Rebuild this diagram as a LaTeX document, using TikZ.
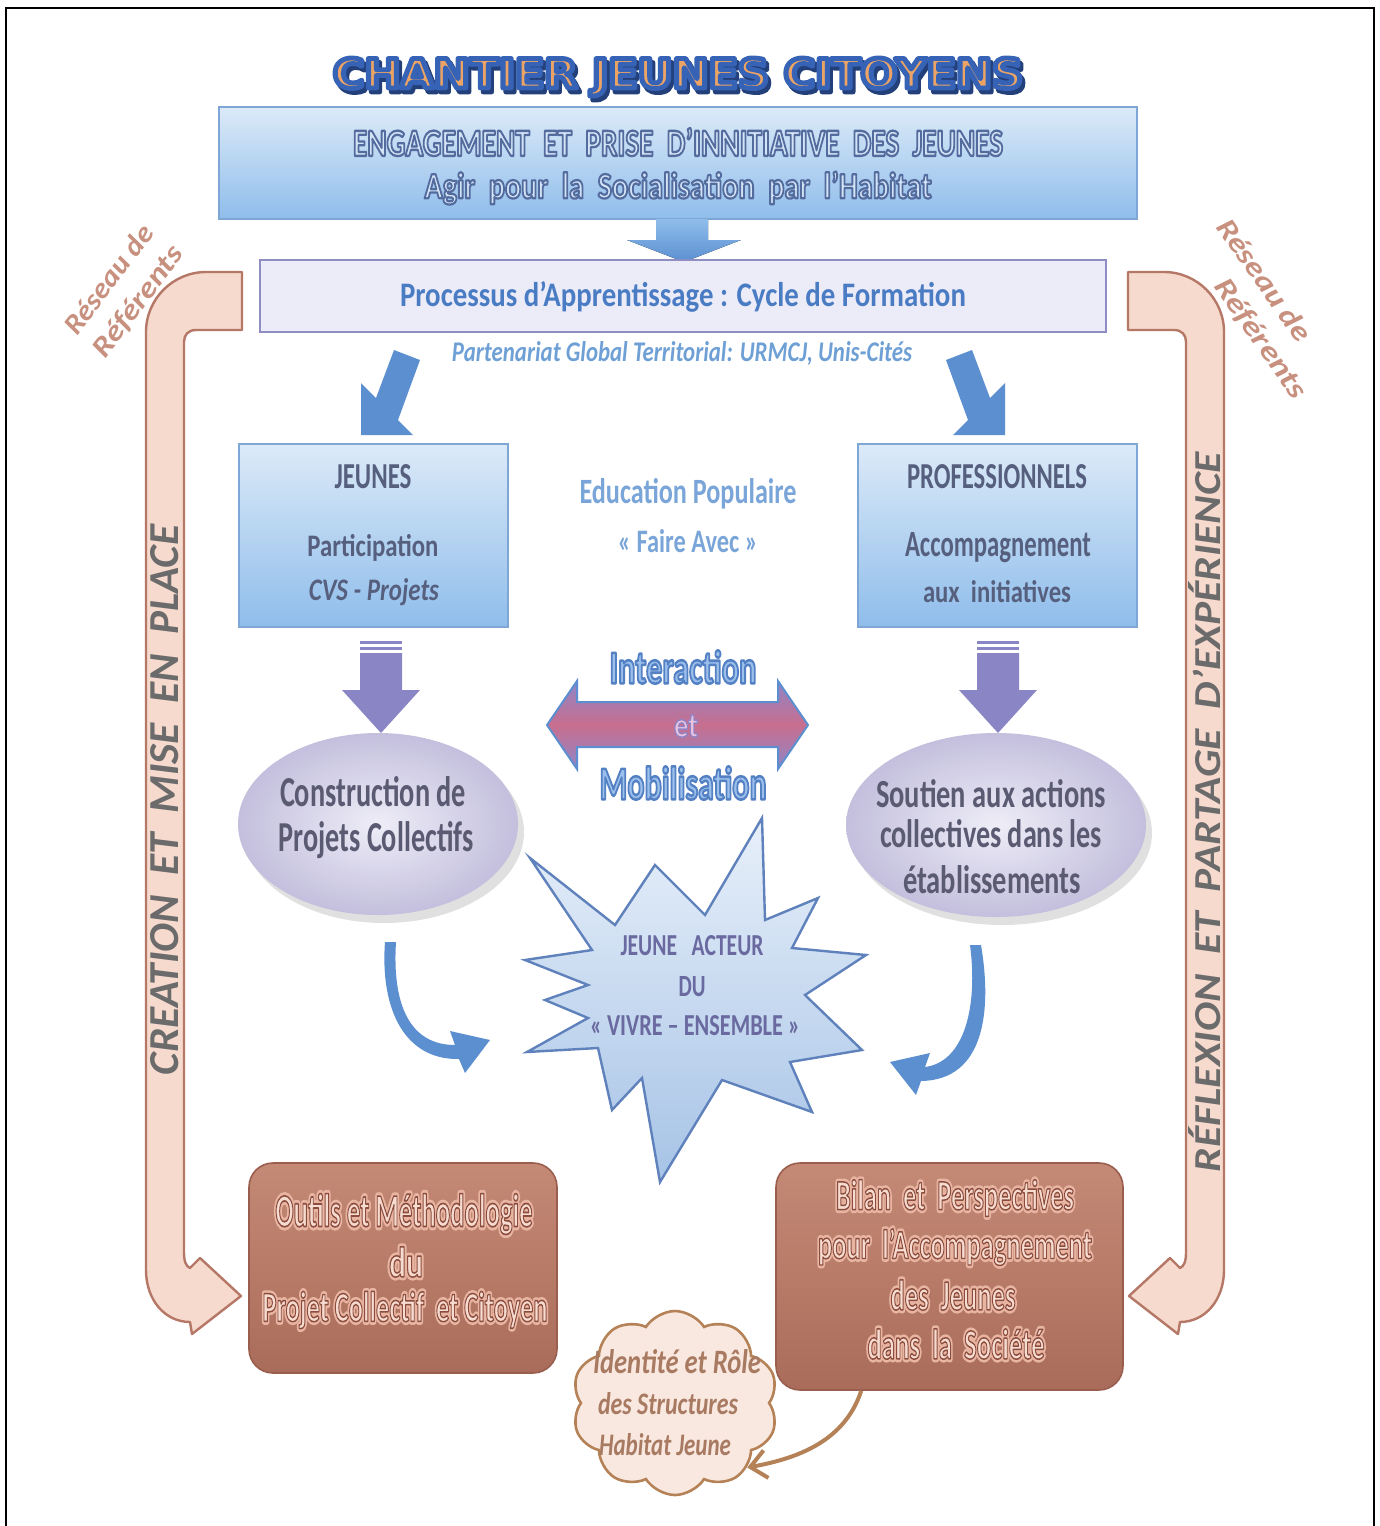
\documentclass[tikz,border=0pt]{standalone}
\usepackage{fontspec}
\usepackage{graphicx}
\setmainfont{Carlito}
\newfontfamily\djv{DejaVu Sans}
\usetikzlibrary{shapes.geometric,shapes.symbols,arrows.meta}

\definecolor{arrblue}{HTML}{5B8FD0}
\definecolor{boxtop}{HTML}{DCEAF8}
\definecolor{boxbot}{HTML}{8FBDEB}
\definecolor{boxline}{HTML}{7FA7D6}
\definecolor{procfill}{HTML}{ECECF8}
\definecolor{procline}{HTML}{8E8EC4}
\definecolor{purparr}{HTML}{8A86C6}
\definecolor{ellin}{HTML}{EEEDF7}
\definecolor{ellout}{HTML}{C3BFDD}
\definecolor{startop}{HTML}{E8F0FA}
\definecolor{starbot}{HTML}{A6C3E6}
\definecolor{starline}{HTML}{5F81BC}
\definecolor{bandfill}{HTML}{F7DACE}
\definecolor{bandline}{HTML}{B57766}
\definecolor{browntop}{HTML}{C48A76}
\definecolor{brownbot}{HTML}{AA6C5A}
\definecolor{brownline}{HTML}{9A5E4E}
\definecolor{boxtext}{HTML}{56607E}
\definecolor{edutext}{HTML}{7AA5D8}
\definecolor{proctext}{HTML}{4A7CC4}
\definecolor{parttext}{HTML}{6EA0D6}
\definecolor{elltext}{HTML}{5A5A72}
\definecolor{startext}{HTML}{6A6AA0}
\definecolor{cloudtext}{HTML}{A87A62}
\definecolor{cloudfill}{HTML}{F9E8E0}
\definecolor{cloudline}{HTML}{B58258}
\definecolor{sidetext}{HTML}{6B6B6B}
\definecolor{restext}{HTML}{C8907E}
\definecolor{titlefill}{HTML}{EBA466}
\definecolor{titleshadow}{HTML}{24407A}
\definecolor{topfill}{HTML}{D3E4F6}
\definecolor{intfill}{HTML}{9CC0EC}
\definecolor{brtext}{HTML}{F6DCD0}
\definecolor{brhalo}{HTML}{E8B5A3}
\definecolor{dbltop}{HTML}{8E86C8}
\definecolor{dblmid}{HTML}{C86E8E}
\definecolor{ettext}{HTML}{E8C4E0}

% width px, height px, text
\newcommand\fitbox[3]{\resizebox{\dimexpr#1pt/2\relax}{\dimexpr#2pt/2\relax}{#3}}
% outlined text: stroke rgb, stroke width, text
\newcommand\olt[3]{\special{pdf:literal direct #1 RG #2 w 1 j 2 Tr}#3\special{pdf:literal direct 0 Tr}}
% name, pos, W, H, style, text
\newcommand\txt[6]{\node[inner sep=0pt,#5] (#1) at (#2) {\fitbox{#3}{#4}{#6}};}
% brown-box text with halo: name, pos, W, H, text
\newcommand\brtxt[5]{%
  \node[inner sep=0pt,text=brhalo,font=\bfseries] at (#2) {\fitbox{#3}{#4}{\olt{0.91 0.71 0.64}{1.6}{#5}}};
  \node[inner sep=0pt,text=brtext,font=\bfseries] (#1) at (#2) {\fitbox{#3}{#4}{\olt{0.55 0.30 0.24}{0.35}{#5}}};}

\tikzset{
  bluebox/.style={draw=boxline,line width=0.8pt,top color=boxtop,bottom color=boxbot},
  band/.style={fill=bandfill,draw=bandline,line width=1.2pt,line join=round},
  blockarrow/.style={fill=arrblue},
  purplearrow/.style={fill=purparr},
  lav/.style={ellipse,inner color=ellin,outer color=ellout,draw=none},
  brownbox/.style={rounded corners=12pt,top color=browntop,bottom color=brownbot,draw=brownline,line width=0.8pt},
}

\begin{document}
\begin{tikzpicture}[x=0.5pt,y=-0.5pt]
\useasboundingbox (0,0) rectangle (1380,1526);
\fill[white] (0,0) rectangle (1380,1526);
% frame
\draw[line width=1pt] (6,1526) -- (6,8) -- (1374,8) -- (1374,1526);

% ---------- side bands ----------
\path[band] (242,272) -- (206,272) .. controls (173,272) and (146,299) .. (146,332)
  -- (146,1270) .. controls (146,1300) and (165,1322) .. (190,1322) -- (192,1334) -- (241,1296)
  -- (200,1258) -- (190,1268) .. controls (186,1266) and (184,1262) .. (184,1252)
  -- (184,342) .. controls (184,335) and (188,330) .. (196,330) -- (242,330) -- cycle;
\begin{scope}[shift={(1370,0)},xscale=-1]
\path[band] (242,272) -- (206,272) .. controls (173,272) and (146,299) .. (146,332)
  -- (146,1270) .. controls (146,1300) and (165,1322) .. (190,1322) -- (192,1334) -- (241,1296)
  -- (200,1258) -- (190,1268) .. controls (186,1266) and (184,1262) .. (184,1252)
  -- (184,342) .. controls (184,335) and (188,330) .. (196,330) -- (242,330) -- cycle;
\end{scope}
\txt{creation}{165,800}{550}{28}{rotate=90,text=sidetext,font=\bfseries\itshape}{CREATION\ \ ET\ \ MISE\ \ EN\ \ PLACE}
\txt{reflexion}{1205,812}{720}{32}{rotate=90,text=sidetext,font=\bfseries\itshape}{RÉFLEXION\ \ ET\ \ PARTAGE\ \ D’EXPÉRIENCE}
\node[inner sep=0pt,rotate=53,align=center,text=restext,font=\itshape\bfseries] (resL) at (124,291)
  {\fitbox{129}{20}{Réseau de}\\[6pt]\fitbox{132}{20}{Référents}};
\node[inner sep=0pt,rotate=-55,align=center,text=restext,font=\itshape\bfseries] (resR) at (1262,310)
  {\fitbox{143}{20}{Réseau de}\hspace*{23pt}\\[6pt]\hspace*{23pt}\fitbox{140}{20}{Référents}};

% ---------- title ----------
\txt{titleshadow}{681,81}{690}{30}{text=titleshadow,font=\djv\bfseries}{\olt{0.14 0.25 0.48}{1.2}{CHANTIER JEUNES CITOYENS}}
\txt{title}{678,77}{690}{30}{text=titlefill,font=\djv\bfseries}{\olt{0.21 0.39 0.71}{1.2}{CHANTIER JEUNES CITOYENS}}

% ---------- top box ----------
\node[bluebox,minimum width=459pt,minimum height=56pt,inner sep=0pt] (topbox) at (678,163) {};
\txt{top1}{678,142}{650}{28}{text=topfill,font=\bfseries}{\olt{0.33 0.42 0.62}{0.6}{ENGAGEMENT\ \ ET\ \ PRISE\ \ D'INNITIATIVE\ \ DES\ \ JEUNES}}
\txt{top2}{678,188}{507}{27}{text=topfill,font=\bfseries}{\olt{0.33 0.42 0.62}{0.6}{Agir\ \ pour\ \ la\ \ Socialisation\ \ par\ \ l'Habitat}}
\fill[top color=boxbot,bottom color=arrblue] (656,219) -- (708,219) -- (708,240) -- (741,240) -- (684,262) -- (627,240) -- (656,240) -- cycle;

% ---------- process box ----------
\node[fill=procfill,draw=procline,line width=1pt,minimum width=423pt,minimum height=36pt,inner sep=0pt] (procbox) at (683,296) {};
\txt{proc}{683,297}{566}{25}{text=proctext,font=\bfseries}{Processus d’Apprentissage : Cycle de Formation}
\txt{part}{682,353}{460}{20}{text=parttext,font=\bfseries\itshape}{Partenariat Global Territorial: URMCJ, Unis-Cités}

% diagonal block arrows
\fill[blockarrow] (361,435) -- (361,383) -- (376,398) -- (394,350) -- (420,360) -- (398,420) -- (413,435) -- cycle;
\fill[blockarrow] (1005,435) -- (1005,383) -- (990,398) -- (972,350) -- (946,360) -- (968,420) -- (953,435) -- cycle;

% ---------- actor boxes ----------
\node[bluebox,minimum width=134.5pt,minimum height=91.5pt,inner sep=0pt] (jeunesbox) at (373.5,535.5) {};
\node[bluebox,minimum width=139.5pt,minimum height=91.5pt,inner sep=0pt] (profbox) at (997.5,535.5) {};
\txt{jeunes}{373,477}{77}{24}{text=boxtext,font=\bfseries}{JEUNES}
\txt{particip}{373,548}{131}{22}{text=boxtext,font=\bfseries}{Participation}
\txt{cvs}{374,592}{130}{22}{text=boxtext,font=\bfseries\itshape}{CVS - Projets}
\txt{prof}{997,477}{180}{24}{text=boxtext,font=\bfseries}{PROFESSIONNELS}
\txt{accomp}{998,548}{186}{24}{text=boxtext,font=\bfseries}{Accompagnement}
\txt{aux}{997,592}{148}{22}{text=boxtext,font=\bfseries}{aux\ \ initiatives}
\txt{edu}{688,494}{217}{25}{text=edutext,font=\bfseries}{Education Populaire}
\txt{faire}{688,541}{140}{23}{text=edutext,font=\bfseries}{« Faire Avec »}

% purple down arrows
\foreach \cx in {381,998}{
  \fill[purplearrow] (\cx-21,641) rectangle (\cx+21,644);
  \fill[purplearrow] (\cx-21,647) rectangle (\cx+21,650);
  \fill[purplearrow] (\cx-21,653) -- (\cx+21,653) -- (\cx+21,690) -- (\cx+39,690) -- (\cx,733) -- (\cx-39,690) -- (\cx-21,690) -- cycle;
}

% double arrow
\fill[draw=arrblue,line width=1pt,top color=dbltop,bottom color=dbltop,middle color=dblmid]
  (547,725) -- (577,681) -- (577,702) -- (778,702) -- (778,681) -- (808,725) -- (778,769) -- (778,747) -- (577,747) -- (577,769) -- cycle;
\txt{interaction}{683,667}{147}{33}{text=intfill,font=\bfseries}{\olt{0.33 0.50 0.77}{0.55}{Interaction}}
\txt{mobil}{683,783}{167}{33}{text=intfill,font=\bfseries}{\olt{0.33 0.50 0.77}{0.55}{Mobilisation}}
\txt{et}{686,726}{24}{22}{text=ettext,font=\bfseries}{\olt{0.56 0.52 0.78}{0.4}{et}}

% ---------- ellipses ----------
\fill[black,opacity=0.12] (384,832) ellipse [x radius=140,y radius=91];
\fill[black,opacity=0.12] (1002,833) ellipse [x radius=150,y radius=92];
\node[lav,minimum width=140pt,minimum height=91pt] (ellL) at (378,824) {};
\node[lav,minimum width=150pt,minimum height=92pt] (ellR) at (996,825) {};
\txt{constr}{373,792}{186}{30}{text=elltext,font=\bfseries}{Construction de}
\txt{projcoll}{376,840}{195}{30}{text=elltext,font=\bfseries}{Projets Collectifs}
\txt{soutien}{991,794}{230}{28}{text=elltext,font=\bfseries}{Soutien aux actions}
\txt{collact}{991,834}{222}{28}{text=elltext,font=\bfseries}{collectives dans les}
\txt{etab}{992,880}{178}{28}{text=elltext,font=\bfseries}{établissements}

% ---------- star ----------
\draw[line width=1.2pt,draw=starline,top color=startop,bottom color=starbot,line join=miter]
  (530,858) -- (615,925) -- (655,865) -- (705,915) -- (762,818) -- (765,920) -- (818,898)
  -- (792,948) -- (866,955) -- (805,995) -- (862,1050) -- (790,1062) -- (812,1112)
  -- (722,1080) -- (660,1182) -- (642,1078) -- (612,1110) -- (598,1048) -- (527,1052)
  -- (588,1018) -- (545,1000) -- (588,985) -- (525,960) -- (592,950) -- cycle;
\txt{acteur}{692,946}{143}{20}{text=startext,font=\bfseries}{JEUNE\ \ \ ACTEUR}
\txt{du}{692,987}{27}{20}{text=startext,font=\bfseries}{DU}
\txt{vivre}{695,1026}{210}{20}{text=startext,font=\bfseries}{« VIVRE – ENSEMBLE »}

% curved blue arrows
\fill[blockarrow] (396,942) .. controls (392,1005) and (410,1045) .. (455,1045) -- (450,1031) -- (490,1040)
  -- (465,1073) -- (459,1059) .. controls (405,1060) and (380,1010) .. (385,942) -- cycle;
\fill[blockarrow] (970,945) .. controls (978,1005) and (965,1062) .. (925,1067) -- (930,1053) -- (890,1062)
  -- (916,1095) -- (921,1081) .. controls (985,1080) and (992,1010) .. (981,945) -- cycle;

% ---------- brown boxes ----------
\node[brownbox,minimum width=154pt,minimum height=105pt,inner sep=0pt] (lbox) at (403,1268) {};
\node[brownbox,minimum width=173.5pt,minimum height=113.5pt,inner sep=0pt] (rbox) at (949.5,1276.5) {};
\brtxt{outils}{404,1214}{257}{33}{Outils et Méthodologie}
\brtxt{ldu}{406,1262}{34}{30}{du}
\brtxt{projet}{405,1310}{285}{30}{Projet Collectif\ \ et Citoyen}
\brtxt{bilan}{955,1198}{238}{30}{Bilan\ \ et\ \ Perspectives}
\brtxt{pour}{955,1247}{274}{30}{pour\ \ l'Accompagnement}
\brtxt{desj}{953,1295}{125}{30}{des\ \ Jeunes}
\brtxt{dans}{956,1344}{177}{30}{dans\ \ la\ \ Société}

% ---------- cloud ----------
\node[cloud,cloud puffs=10,cloud puff arc=115,aspect=1.1,fill=cloudfill,draw=cloudline,line width=1.3pt,minimum width=103pt,minimum height=92pt,inner sep=0pt] (cloud) at (675,1403) {};
\txt{ident}{677,1362}{168}{24}{text=cloudtext,font=\bfseries\itshape}{Identité et Rôle}
\txt{struct}{668,1404}{140}{22}{text=cloudtext,font=\bfseries\itshape}{des Structures}
\txt{habitat}{665,1445}{132}{22}{text=cloudtext,font=\bfseries\itshape}{Habitat Jeune}
\draw[cloudline,line width=2pt,-{Straight Barb[length=8pt,width=14pt,line width=2pt]}]
  ([xshift=43pt]rbox.south west) .. controls (845,1440) and (800,1458) .. (cloud.south east);
\end{tikzpicture}
\end{document}
